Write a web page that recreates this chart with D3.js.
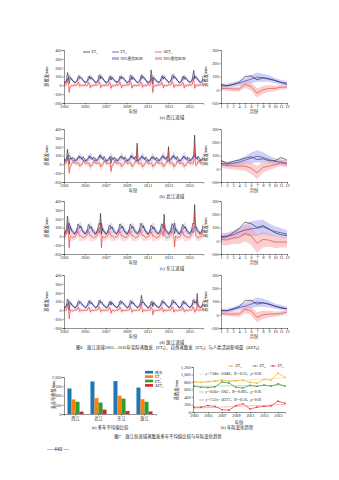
<!DOCTYPE html>
<html><head><meta charset="utf-8">
<script src="https://cdn.jsdelivr.net/npm/d3@7"></script>
<style>
body{margin:0;background:#fff;}
svg text{font-family:"Liberation Serif","Noto Sans CJK SC",serif;fill:#222;}
</style></head><body><div id="page"></div>
<script>
// ---------- figure 6 data: monthly ET (mm), one row per year 2003-2016 ----------
let arrYearTicks = [2003, 2005, 2007, 2009, 2011, 2013, 2015];
let arrMonths = [1, 2, 3, 4, 5, 6, 7, 8, 9, 10, 11, 12];

// 西江
let arrXjETa = [
  [35,25,40,60,145,100,20,80,75,65,50,40],[40,30,42,55,95,110,80,92,82,70,55,42],
  [45,32,38,52,100,105,70,88,80,72,56,44],[38,30,44,58,110,120,75,95,84,70,58,40],
  [42,28,40,50,98,108,60,86,78,66,52,42],[48,34,42,56,105,100,72,90,82,72,56,46],
  [40,30,44,54,115,112,65,88,80,70,54,42],[36,30,40,52,100,118,78,94,86,72,56,44],
  [44,32,38,48,175,105,10,82,74,64,52,40],[42,34,42,58,102,110,70,90,84,70,56,46],
  [40,36,46,62,112,122,80,96,86,74,58,46],[38,30,40,54,98,104,68,88,80,70,54,42],
  [46,36,46,60,120,170,75,98,88,76,60,50],[44,34,44,58,108,112,72,92,84,72,58,48]];
let arrXjETn = [
  [25,28,38,48,64,82,100,92,84,68,52,44],[30,30,40,50,62,78,92,88,82,70,56,48],
  [32,28,42,52,66,80,96,90,86,72,54,50],[28,32,40,48,68,84,104,94,86,70,56,46],
  [30,30,38,50,64,78,94,88,84,68,54,48],[34,30,42,52,66,82,98,92,86,72,56,52],
  [28,28,40,50,62,80,96,90,84,70,54,48],[30,32,42,48,66,84,102,94,88,72,58,50],
  [26,28,38,46,60,76,90,86,80,66,52,46],[32,30,40,52,68,82,98,92,86,72,56,50],
  [30,32,42,54,70,86,104,96,88,72,58,52],[28,30,40,50,64,80,96,90,84,70,54,48],
  [34,32,44,56,72,88,108,98,90,74,60,54],[32,30,42,52,66,82,98,92,86,72,56,50]];
// 北江
let arrBjETa = [
  [70,40,55,70,170,80,0,70,60,62,80,65],[65,42,56,62,82,92,72,78,62,58,88,66],
  [60,38,52,64,78,96,68,74,58,62,84,64],[68,44,58,68,86,104,74,80,62,60,90,68],
  [62,36,50,60,76,88,10,70,56,56,82,60],[66,40,54,66,80,90,70,76,60,60,86,66],
  [64,38,56,64,84,100,72,78,62,62,88,64],[240,42,54,62,78,92,68,74,58,58,84,68],
  [60,36,50,60,74,86,64,72,56,56,80,60],[66,42,56,66,82,96,74,78,60,62,88,66],
  [200,44,58,68,84,98,76,80,62,62,90,66],[62,38,54,62,78,90,70,74,58,58,84,62],
  [70,44,60,70,88,104,330,82,64,64,92,70],[68,42,56,66,82,94,72,78,62,60,88,68]];
let arrBjETn = [
  [38,34,40,52,68,84,100,88,72,56,50,40],[42,36,42,50,64,78,92,84,70,54,48,42],
  [40,34,38,48,66,82,96,86,72,58,52,40],[44,38,42,54,70,86,104,90,74,56,50,42],
  [38,32,40,50,62,78,90,82,68,54,48,38],[42,36,40,52,66,80,94,86,70,56,50,42],
  [40,34,42,50,68,84,98,88,72,58,52,40],[46,38,42,52,64,80,96,84,70,56,50,44],
  [38,34,38,48,62,76,90,82,68,54,48,38],[42,36,42,52,68,84,100,88,72,58,52,42],
  [40,38,44,54,70,86,102,90,74,58,52,40],[38,34,40,50,64,80,94,84,70,56,50,40],
  [44,38,44,56,72,88,106,92,76,60,54,44],[42,36,42,52,66,82,96,86,72,58,52,42]];
// 东江
let arrDjETa = [
  [25,28,60,88,230,130,20,112,88,60,44,38],[24,32,62,92,140,128,100,118,92,62,46,40],
  [26,30,58,86,135,125,95,110,88,58,44,42],[22,34,64,94,145,135,260,20,92,62,48,40],
  [24,30,56,84,130,120,92,108,86,56,42,38],[26,32,60,90,140,128,98,114,90,60,46,40],
  [24,30,58,88,138,126,96,112,88,60,44,38],[28,34,64,94,150,136,104,120,94,64,48,42],
  [22,28,54,82,128,118,88,106,84,56,42,36],[26,32,60,90,142,130,100,250,90,60,46,40],
  [24,32,62,92,144,132,102,30,92,62,46,40],[24,30,58,86,136,126,96,110,88,58,44,38],
  [28,34,66,96,150,140,360,124,96,64,50,44],[26,32,60,90,140,130,100,116,90,60,46,40]];
let arrDjETn = [
  [28,32,44,62,80,92,150,108,86,70,58,48],[30,36,46,66,82,94,98,110,88,72,62,50],
  [32,34,44,64,78,88,92,104,84,68,60,52],[28,36,48,68,84,96,110,150,88,72,62,50],
  [30,34,44,62,76,86,90,100,82,68,58,48],[32,36,46,66,82,92,96,106,86,70,60,52],
  [30,34,46,64,80,90,94,104,84,70,60,50],[34,38,48,68,84,94,100,110,88,72,62,52],
  [28,32,42,60,76,86,90,100,82,66,56,46],[32,36,46,66,82,92,98,108,86,70,60,50],
  [30,36,48,68,84,94,100,150,88,72,62,52],[30,34,44,64,80,90,94,104,84,70,58,48],
  [34,38,50,70,86,96,104,114,90,74,64,54],[32,36,46,66,82,92,98,108,86,70,60,50]];
// 珠江
let arrZjETa = [
  [34,28,44,62,130,105,0,86,78,62,48,42],[36,30,44,58,100,108,82,90,80,66,50,44],
  [38,30,46,60,98,112,78,88,82,64,52,46],[34,32,46,62,108,118,84,94,80,66,52,44],
  [36,28,42,58,96,104,60,86,76,62,48,44],[38,30,46,60,104,110,80,90,82,66,52,46],
  [34,28,44,58,110,108,74,88,80,64,50,44],[36,32,46,62,106,170,82,92,82,66,52,46],
  [32,28,42,56,98,102,40,84,76,60,48,42],[36,30,46,62,104,112,80,92,82,66,52,46],
  [36,32,48,64,112,118,84,94,84,68,54,48],[34,30,44,58,100,106,76,88,80,64,50,44],
  [38,34,48,64,115,120,82,96,84,190,56,48],[36,32,46,60,106,112,80,92,82,66,52,46]];
let arrZjETn = [
  [28,28,40,54,66,82,98,90,80,64,54,44],[30,30,38,52,64,78,94,88,78,66,56,46],
  [32,30,42,56,66,80,96,90,82,66,54,46],[28,32,40,54,68,84,100,92,80,64,56,44],
  [30,30,40,54,64,78,92,88,78,64,54,44],[32,30,42,56,66,82,96,90,82,66,56,48],
  [30,28,40,54,64,80,94,90,80,64,54,46],[30,32,42,56,68,84,100,92,82,66,56,46],
  [28,28,38,52,62,76,90,86,76,62,52,44],[32,30,42,56,68,82,98,92,82,66,56,46],
  [30,32,42,58,70,86,102,94,84,68,58,48],[28,30,40,54,64,80,94,90,80,64,54,44],
  [32,32,44,58,72,88,104,96,84,68,58,48],[30,30,42,56,66,82,96,90,80,66,56,46]];

// monthly means (right panels) and 90% band half-widths
let arrXjMonA = [40,30,40,55,100,105,75,90,80,70,55,40];
let arrXjMonN = [30,30,40,50,65,80,95,90,85,70,55,50];
let arrXjMonH = [10,10,5,5,40,25,-25,0,10,10,20,20];
let arrXjBandN = [15,15,18,20,25,30,35,30,25,20,18,15];
let arrXjBandH = [15,15,18,20,25,30,35,30,25,20,18,15];
let arrBjMonA = [65,40,55,65,80,90,70,75,60,60,85,65];
let arrBjMonN = [40,35,40,50,65,80,95,85,70,55,50,40];
let arrBjMonH = [30,25,20,20,20,5,-30,10,20,30,45,35];
let arrBjBandN = [20,20,20,25,30,40,45,40,30,25,20,20];
let arrBjBandH = [25,25,25,30,35,45,50,40,30,25,25,25];
let arrDjMonA = [25,30,60,90,140,130,100,115,90,60,45,40];
let arrDjMonN = [30,35,45,65,80,90,95,105,85,70,60,50];
let arrDjMonH = [10,5,20,25,55,40,-20,10,5,-10,-10,-10];
let arrDjBandN = [25,25,30,35,45,55,60,55,45,40,35,30];
let arrDjBandH = [40,40,45,50,60,70,70,60,50,45,40,40];
let arrZjMonA = [35,30,45,60,105,110,80,90,80,65,50,45];
let arrZjMonN = [30,30,40,55,65,80,95,90,80,65,55,45];
let arrZjMonH = [10,5,5,5,40,30,-20,0,5,5,10,20];
let arrZjBandN = [15,15,18,20,25,30,35,30,25,20,18,15];
let arrZjBandH = [15,15,18,22,28,32,38,32,25,20,18,15];

// ---------- figure 7 data ----------
let arrBasins = ["西江", "北江", "东江", "珠江"];
let arrPrecip = [1380, 1760, 1780, 1430];
let arrETaMean = [790, 860, 990, 800];
let arrETnMean = [660, 620, 830, 660];
let arrEThMean = [130, 240, 160, 140];
let arrYears = [2003,2004,2005,2006,2007,2008,2009,2010,2011,2012,2013,2014,2015,2016];
let arrETaYr = [810,790,810,830,850,820,830,850,790,770,870,850,1040,920];
let arrETnYr = [690,660,650,670,800,770,660,640,710,680,720,690,750,690];
let arrEThYr = [130,130,170,150,60,50,170,220,80,130,150,160,290,230];

// ---------- page ----------
let svg = d3.select("#page").append("svg").attr("width", 339).attr("height", 480);
let intPanelHgt = 53;
let colBlack = "#1e1e1e", colBlue = "#2a2aa8", colRed = "#e0383a";

function fnStyleAxis(g, fs) {
  g.selectAll("path.domain").attr("stroke", "#222").attr("stroke-width", 0.5);
  g.selectAll(".tick line").attr("stroke", "#222").attr("stroke-width", 0.5);
  g.selectAll(".tick text").attr("font-size", fs).attr("fill", "#222")
    .attr("font-family", "Liberation Serif");
}

// "ET" + subscript label
function fnEt(sel, pre, sub, fs) {
  sel.append("tspan").text(pre + "ET");
  sel.append("tspan").text(sub).attr("font-size", fs * 0.7).attr("dy", fs * 0.25);
}

let arrPanels = [
  {cap: "(a) 西江流域", top: 50, etA: arrXjETa, etN: arrXjETn, mA: arrXjMonA, mN: arrXjMonN, mH: arrXjMonH, bN: arrXjBandN, bH: arrXjBandH},
  {cap: "(b) 北江流域", top: 129, etA: arrBjETa, etN: arrBjETn, mA: arrBjMonA, mN: arrBjMonN, mH: arrBjMonH, bN: arrBjBandN, bH: arrBjBandH},
  {cap: "(c) 东江流域", top: 201, etA: arrDjETa, etN: arrDjETn, mA: arrDjMonA, mN: arrDjMonN, mH: arrDjMonH, bN: arrDjBandN, bH: arrDjBandH},
  {cap: "(d) 珠江流域", top: 275, etA: arrZjETa, etN: arrZjETn, mA: arrZjMonA, mN: arrZjMonN, mH: arrZjMonH, bN: arrZjBandN, bH: arrZjBandH}
];

arrPanels.forEach((p, k) => {
  let yB = p.top + intPanelHgt;

  // 1) left: monthly series
  let fnX = d3.scaleLinear().domain([2003, 2016.3]).range([64, 203]);
  let fnY = d3.scaleLinear().domain([-200, 400]).range([yB, p.top]);
  let arrA = p.etA.flat(), arrN = p.etN.flat();
  let arrRows = arrA.map((v, i) => ({t: 2003 + i / 12, a: v, n: arrN[i], h: v - arrN[i], m: i % 12}));

  svg.append("clipPath").attr("id", "clip" + k)
    .append("rect").attr("x", 64).attr("y", p.top - 2).attr("width", 139).attr("height", intPanelHgt + 2);
  let g = svg.append("g").attr("clip-path", `url(#clip${k})`);

  g.append("path").datum(arrRows)
    .attr("d", d3.area().x(d => fnX(d.t)).y0(d => fnY(d.n - p.bN[d.m])).y1(d => fnY(d.n + p.bN[d.m])))
    .attr("fill", "#a8a8f0").attr("opacity", 0.4);
  g.append("path").datum(arrRows)
    .attr("d", d3.area().x(d => fnX(d.t)).y0(d => fnY(d.h - p.bH[d.m])).y1(d => fnY(d.h + p.bH[d.m])))
    .attr("fill", "#f4a8a8").attr("opacity", 0.4);
  [["a", colBlack], ["n", colBlue], ["h", colRed]].forEach(([key, col]) => {
    g.append("path").datum(arrRows)
      .attr("d", d3.line().x(d => fnX(d.t)).y(d => fnY(d[key])))
      .attr("fill", "none").attr("stroke", col).attr("stroke-width", 0.6);
  });

  let gAx = svg.append("g").attr("transform", `translate(0,${yB})`)
    .call(d3.axisBottom(fnX).tickValues(arrYearTicks).tickFormat(d => d).tickSize(1.5).tickPadding(1));
  fnStyleAxis(gAx, 4.2);
  let gAy = svg.append("g").attr("transform", "translate(64,0)")
    .call(d3.axisLeft(fnY).tickValues([-200, -100, 0, 100, 200, 300, 400]).tickFormat(d => d).tickSize(1.5).tickPadding(1));
  fnStyleAxis(gAy, 4.2);

  svg.append("text").attr("transform", `translate(48,${p.top + intPanelHgt / 2}) rotate(-90)`)
    .attr("text-anchor", "middle").attr("font-size", 4.2).text("蒸散发/mm");
  svg.append("text").attr("x", 133).attr("y", yB + 10).attr("text-anchor", "middle")
    .attr("font-size", 4.2).text("年份");

  // 2) right: monthly means
  let fnXm = d3.scaleLinear().domain([1, 12]).range([221, 287]);
  let fnYm = d3.scaleLinear().domain([-100, 300]).range([yB, p.top]);
  let arrMon = arrMonths.map((m, i) => ({m: m, a: p.mA[i], n: p.mN[i], h: p.mH[i], bn: p.bN[i], bh: p.bH[i]}));

  svg.append("path").datum(arrMon)
    .attr("d", d3.area().x(d => fnXm(d.m)).y0(d => fnYm(d.n - d.bn)).y1(d => fnYm(d.n + d.bn)))
    .attr("fill", "#a8a8f0").attr("opacity", 0.55);
  svg.append("path").datum(arrMon)
    .attr("d", d3.area().x(d => fnXm(d.m)).y0(d => fnYm(d.h - d.bh)).y1(d => fnYm(d.h + d.bh)))
    .attr("fill", "#f4a8a8").attr("opacity", 0.55);
  [["a", colBlack], ["n", colBlue], ["h", colRed]].forEach(([key, col]) => {
    svg.append("path").datum(arrMon)
      .attr("d", d3.line().x(d => fnXm(d.m)).y(d => fnYm(d[key])))
      .attr("fill", "none").attr("stroke", col).attr("stroke-width", 0.6);
  });

  let gBx = svg.append("g").attr("transform", `translate(0,${yB})`)
    .call(d3.axisBottom(fnXm).tickValues(arrMonths).tickSize(1.5).tickPadding(1));
  fnStyleAxis(gBx, 4.2);
  let gBy = svg.append("g").attr("transform", "translate(221,0)")
    .call(d3.axisLeft(fnYm).tickValues([-100, 0, 100, 200, 300]).tickFormat(d => d).tickSize(1.5).tickPadding(1));
  fnStyleAxis(gBy, 4.2);

  svg.append("text").attr("transform", `translate(207,${p.top + intPanelHgt / 2}) rotate(-90)`)
    .attr("text-anchor", "middle").attr("font-size", 4.2).text("蒸散发/mm");
  svg.append("text").attr("x", 254).attr("y", yB + 10).attr("text-anchor", "middle")
    .attr("font-size", 4.2).text("月份");

  svg.append("text").attr("x", 172).attr("y", yB + 16).attr("text-anchor", "middle")
    .attr("font-size", 4.6).text(p.cap);
});

// 3) legend in panel (a)
let arrLeg6 = [
  {x: 83, y: 52, col: colBlack, pre: "", sub: "a", band: false},
  {x: 112, y: 52, col: colBlue, pre: "", sub: "n", band: false},
  {x: 155, y: 52, col: colRed, pre: "Δ", sub: "h", band: false},
  {x: 112, y: 59, col: "#a8a8f0", band: true},
  {x: 155, y: 59, col: "#f4a8a8", band: true}
];
arrLeg6.forEach(l => {
  if (l.band) {
    svg.append("rect").attr("x", l.x).attr("y", l.y - 1.8).attr("width", 7).attr("height", 2.6).attr("fill", l.col);
    svg.append("text").attr("x", l.x + 8.5).attr("y", l.y + 1.3).attr("font-size", 3.8).text("90%置信区间");
  } else {
    svg.append("line").attr("x1", l.x).attr("x2", l.x + 7).attr("y1", l.y).attr("y2", l.y)
      .attr("stroke", l.col).attr("stroke-width", 0.7);
    let t = svg.append("text").attr("x", l.x + 8.5).attr("y", l.y + 1.3).attr("font-size", 3.8);
    fnEt(t, l.pre, l.sub, 3.8);
  }
});

// figure 6 caption
let txtCap6 = svg.append("text").attr("x", 169).attr("y", 349).attr("text-anchor", "middle").attr("font-size", 4.4);
txtCap6.append("tspan").text("图6　珠江流域2003—2016年实际蒸散发（");
fnEt(txtCap6, "", "a", 4.4);
txtCap6.append("tspan").attr("dy", -1.1).text("）、自然蒸散发（");
fnEt(txtCap6, "", "n", 4.4);
txtCap6.append("tspan").attr("dy", -1.1).text("）与人类活动影响量（");
fnEt(txtCap6, "Δ", "h", 4.4);
txtCap6.append("tspan").attr("dy", -1.1).text("）");

// ---------- figure 7a: grouped bars ----------
let arrBarKeys = ["P", "A", "N", "H"];
let arrBarCols = ["#1f77b4", "#ff7f0e", "#2ca02c", "#d62728"];
let arrBarRows = arrBasins.map((b, i) => ({b: b, P: arrPrecip[i], A: arrETaMean[i], N: arrETnMean[i], H: arrEThMean[i]}));
let fnXb = d3.scaleBand().domain(arrBasins).range([64, 156]).paddingInner(0.3).paddingOuter(0.15);
let fnXs = d3.scaleBand().domain(arrBarKeys).range([0, fnXb.bandwidth()]);
let fnYb = d3.scaleLinear().domain([0, 2000]).range([414, 377]);

svg.append("g").selectAll("g").data(arrBarRows).enter().append("g")
  .attr("transform", d => `translate(${fnXb(d.b)},0)`)
  .selectAll("rect").data(d => arrBarKeys.map((k, j) => ({k: k, v: d[k], c: arrBarCols[j]}))).enter()
  .append("rect")
  .attr("x", d => fnXs(d.k)).attr("width", fnXs.bandwidth())
  .attr("y", d => fnYb(d.v)).attr("height", d => 414 - fnYb(d.v))
  .attr("fill", d => d.c);

let gCx = svg.append("g").attr("transform", "translate(0,414)")
  .call(d3.axisBottom(fnXb).tickSize(1.5).tickPadding(1.5));
fnStyleAxis(gCx, 4.2);
gCx.selectAll(".tick text").attr("font-family", "Noto Sans CJK SC");
let gCy = svg.append("g").attr("transform", "translate(64,0)")
  .call(d3.axisLeft(fnYb).tickValues([0, 500, 1000, 1500, 2000]).tickSize(1.5).tickPadding(1));
fnStyleAxis(gCy, 4.2);
svg.append("text").attr("transform", "translate(55,395) rotate(-90)")
  .attr("text-anchor", "middle").attr("font-size", 4.2).text("多年平均值/mm");

let arrLeg7 = [["降水", ""], ["", "a"], ["", "n"], ["Δ", "h"]];
arrLeg7.forEach((l, j) => {
  let y = 372.5 + j * 4.4;
  svg.append("rect").attr("x", 145).attr("y", y - 1.6).attr("width", 8).attr("height", 2.6).attr("fill", arrBarCols[j]);
  let t = svg.append("text").attr("x", 155).attr("y", y + 1.2).attr("font-size", 3.8);
  if (l[1] === "") t.text(l[0]); else fnEt(t, l[0], l[1], 3.8);
});
svg.append("text").attr("x", 110).attr("y", 429).attr("text-anchor", "middle").attr("font-size", 4.4).text("(a) 多年平均值比较");

// ---------- figure 7b: annual series with trends ----------
let fnXl = d3.scaleLinear().domain([2003, 2016]).range([194, 285]);
let fnYl = d3.scaleLinear().domain([0, 1200]).range([412, 367]);
let arrLineCols = ["#f2b134", "#3a9a3a", "#d8363a"];
let arrSeries = [arrETaYr, arrETnYr, arrEThYr];

function fnFit(xs, ys) {
  let mx = d3.mean(xs), my = d3.mean(ys);
  let b = d3.sum(xs, (x, i) => (x - mx) * (ys[i] - my)) / d3.sum(xs, x => (x - mx) * (x - mx));
  return [b, my - b * mx];
}

arrSeries.forEach((s, j) => {
  let [b, a] = fnFit(arrYears, s);
  svg.append("line").attr("x1", fnXl(2003)).attr("x2", fnXl(2016))
    .attr("y1", fnYl(a + b * 2003)).attr("y2", fnYl(a + b * 2016))
    .attr("stroke", arrLineCols[j]).attr("stroke-width", 0.4).attr("opacity", 0.8);
  svg.append("path").datum(s)
    .attr("d", d3.line().x((d, i) => fnXl(arrYears[i])).y(d => fnYl(d)))
    .attr("fill", "none").attr("stroke", arrLineCols[j]).attr("stroke-width", 0.7);
  svg.append("g").selectAll("circle").data(s).enter().append("circle")
    .attr("cx", (d, i) => fnXl(arrYears[i])).attr("cy", d => fnYl(d)).attr("r", 0.8)
    .attr("fill", arrLineCols[j]);
});

let gDx = svg.append("g").attr("transform", "translate(0,412)")
  .call(d3.axisBottom(fnXl).tickValues(arrYearTicks).tickFormat(d => d).tickSize(1.5).tickPadding(1));
fnStyleAxis(gDx, 4.2);
let gDy = svg.append("g").attr("transform", "translate(193,0)")
  .call(d3.axisLeft(fnYl).tickValues([0, 200, 400, 600, 800, 1000, 1200]).tickSize(1.5).tickPadding(1));
fnStyleAxis(gDy, 4.2);
svg.append("text").attr("transform", "translate(178,390) rotate(-90)")
  .attr("text-anchor", "middle").attr("font-size", 4.2).text("蒸散发/mm");
svg.append("text").attr("x", 239).attr("y", 423.5).attr("text-anchor", "middle").attr("font-size", 4.2).text("年份");

// legend 7b
let arrLegL = [[228, "a"], [252, "n"], [270, "h"]];
arrLegL.forEach((l, j) => {
  svg.append("line").attr("x1", l[0]).attr("x2", l[0] + 6).attr("y1", 366).attr("y2", 366)
    .attr("stroke", arrLineCols[j]).attr("stroke-width", 0.6);
  svg.append("circle").attr("cx", l[0] + 3).attr("cy", 366).attr("r", 0.8).attr("fill", arrLineCols[j]);
  let t = svg.append("text").attr("x", l[0] + 7.5).attr("y", 367.3).attr("font-size", 3.8);
  fnEt(t, "", l[1], 3.8);
});

// trend equations
let arrEq = [
  {y: 375, t: "y=7.94x−15044，R²=0.25，p<0.05"},
  {y: 393, t: "y=0.66x−1062，R²=0.005，p>0.05"},
  {y: 401, t: "y=7.22x−14372，R²=0.18，p>0.05"}
];
arrEq.forEach((e, j) => {
  svg.append("line").attr("x1", 199).attr("x2", 204).attr("y1", e.y - 1).attr("y2", e.y - 1)
    .attr("stroke", arrLineCols[j]).attr("stroke-width", 0.4);
  svg.append("text").attr("x", 205.5).attr("y", e.y).attr("font-size", 3.8).attr("font-style", "italic").text(e.t);
});
svg.append("text").attr("x", 237).attr("y", 429).attr("text-anchor", "middle").attr("font-size", 4.4).text("(b) 年际变化趋势");

// figure 7 caption + page number
svg.append("text").attr("x", 168).attr("y", 437.5).attr("text-anchor", "middle").attr("font-size", 4.4)
  .text("图7　珠江各流域蒸散发多年平均值比较与年际变化趋势");
svg.append("text").attr("x", 58).attr("y", 451).attr("text-anchor", "middle").attr("font-size", 5.5)
  .text("— 440 —");
</script></body></html>
